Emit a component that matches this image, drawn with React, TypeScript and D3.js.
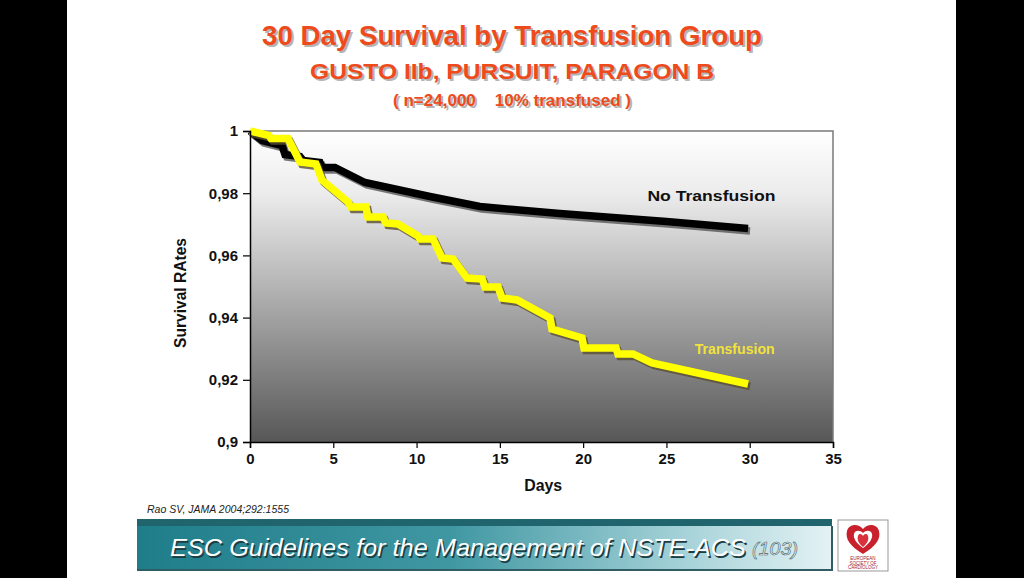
import React, { useEffect, useRef } from 'react';
import * as d3 from 'd3';

const W = 1024;
const H = 578;
const plot = { left: 250, right: 833, top: 131, bottom: 442 };

// Kaplan-Meier curves: [day, survival]
const noTransfusion: [number, number][] = [
  [0, 1.0], [0.72, 0.99695], [1.92, 0.99534], [2.1, 0.99244], [3.0, 0.9918],
  [3.18, 0.99051], [4.2, 0.98987], [4.32, 0.98826], [5.1, 0.98826], [6.9, 0.98344],
  [10.8, 0.97894], [13.8, 0.97572], [18.6, 0.97347], [25, 0.9709], [29.9, 0.96865],
];

const transfusion: [number, number][] = [
  [0, 1.0], [1.14, 0.99855], [1.26, 0.99759], [2.28, 0.99759], [3.0, 0.99003],
  [3.96, 0.98939], [4.32, 0.98424], [5.88, 0.97717], [6.06, 0.97556], [6.96, 0.97556],
  [7.08, 0.97235], [7.98, 0.97235], [8.16, 0.97042], [8.88, 0.9701], [10.09, 0.96624],
  [10.2, 0.96527], [10.99, 0.96527], [11.53, 0.95916], [12.19, 0.95884], [13.03, 0.95273],
  [13.93, 0.95241], [14.11, 0.94984], [14.89, 0.94984], [15.13, 0.9463], [16.03, 0.94566],
  [18.01, 0.93987], [18.13, 0.93633], [19.93, 0.93344], [20.05, 0.93023], [21.97, 0.93023],
  [22.09, 0.9283], [22.99, 0.9283], [24.13, 0.9254], [29.9, 0.91865],
];

const xTicks = [0, 5, 10, 15, 20, 25, 30, 35];
const yTicks = [0.9, 0.92, 0.94, 0.96, 0.98, 1];
const titleLines = [
  '30 Day Survival by Transfusion Group',
  'GUSTO IIb, PURSUIT, PARAGON B',
  '( n=24,000\u00a0\u00a0\u00a0 10% transfused )',
];
const seriesLabels = ['No Transfusion', 'Transfusion'];
// label anchor points in data units [day, survival]
const labelAt: [number, number][] = [[27.7, 0.9775], [29.1, 0.9283]];
const labelLen = [128, 80];

const NARROW = '"Liberation Sans Narrow", "Arial Narrow", "Liberation Sans", Arial, sans-serif';
const TITLE_RED = '#ee4a1c';

export default function App() {
  const ref = useRef<SVGSVGElement>(null);

  useEffect(() => {
    const svg = d3.select(ref.current);
    svg.selectAll('*').remove();

    const x = d3.scaleLinear().domain([0, 35]).range([plot.left, plot.right]);
    const y = d3.scaleLinear().domain([0.9, 1]).range([plot.bottom, plot.top]);

    const defs = svg.append('defs');
    const bg = defs.append('linearGradient').attr('id', 'plotbg')
      .attr('x1', 0).attr('y1', 0).attr('x2', 0).attr('y2', 1);
    bg.append('stop').attr('offset', '0%').attr('stop-color', '#ffffff');
    bg.append('stop').attr('offset', '20%').attr('stop-color', '#ececec');
    bg.append('stop').attr('offset', '100%').attr('stop-color', '#575757');

    const banner = defs.append('linearGradient').attr('id', 'banner')
      .attr('x1', 0).attr('y1', 0).attr('x2', 1).attr('y2', 0);
    banner.append('stop').attr('offset', '0%').attr('stop-color', '#1f7d8a');
    banner.append('stop').attr('offset', '45%').attr('stop-color', '#3f97a2');
    banner.append('stop').attr('offset', '80%').attr('stop-color', '#a9d4da');
    banner.append('stop').attr('offset', '100%').attr('stop-color', '#e4f2f4');

    // slide background + black side bars
    svg.append('rect').attr('width', W).attr('height', H).attr('fill', '#fff');
    svg.append('rect').attr('x', 0).attr('y', 0).attr('width', 67).attr('height', H).attr('fill', '#000');
    svg.append('rect').attr('x', 956).attr('y', 0).attr('width', W - 956).attr('height', H).attr('fill', '#000');

    // titles
    const titleSpecs = [
      { y: 45, size: 28, len: 500 },
      { y: 79, size: 22, len: 404 },
      { y: 106, size: 16, len: 238 },
    ];
    titleLines.forEach((t, i) => {
      const s = titleSpecs[i];
      [['#b5b5b5', 2], [TITLE_RED, 0]].forEach(([fill, off]) => {
        svg.append('text')
          .attr('x', 512 + (off as number)).attr('y', s.y + (off as number))
          .attr('text-anchor', 'middle')
          .attr('font-family', NARROW).attr('font-weight', 'bold')
          .attr('font-size', s.size)
          .attr('textLength', s.len).attr('lengthAdjust', 'spacingAndGlyphs')
          .attr('fill', fill as string)
          .text(t);
      });
    });

    // plot area
    svg.append('rect')
      .attr('x', plot.left).attr('y', plot.top)
      .attr('width', plot.right - plot.left).attr('height', plot.bottom - plot.top)
      .attr('fill', 'url(#plotbg)');
    svg.append('path')
      .attr('d', `M${plot.left},${plot.top}H${plot.right}V${plot.bottom}`)
      .attr('fill', 'none').attr('stroke', '#7a7a7a').attr('stroke-width', 1.5);

    const line = d3.line<[number, number]>().x(d => x(d[0])).y(d => y(d[1]));
    const curves: [[number, number][], string][] = [[noTransfusion, '#000'], [transfusion, '#ffff00']];
    curves.forEach(([data, color]) => {
      svg.append('path').datum(data)
        .attr('d', line)
        .attr('transform', 'translate(2,2.5)')
        .attr('fill', 'none').attr('stroke', color === '#000' ? '#555' : '#5a5030')
        .attr('stroke-opacity', 0.8)
        .attr('stroke-width', 7.5).attr('stroke-linejoin', 'miter');
      svg.append('path').datum(data)
        .attr('d', line)
        .attr('fill', 'none').attr('stroke', color)
        .attr('stroke-width', 7.5).attr('stroke-linejoin', 'miter');
    });

    // axes
    const fmt = (d: d3.NumberValue) => String(+(+d).toFixed(2)).replace('.', ',');
    const yAxis = svg.append('g')
      .attr('transform', `translate(${plot.left},0)`)
      .call(d3.axisLeft(y).tickValues(yTicks).tickFormat(fmt).tickSize(7).tickPadding(5));
    const xAxis = svg.append('g')
      .attr('transform', `translate(0,${plot.bottom})`)
      .call(d3.axisBottom(x).tickValues(xTicks).tickFormat(d => String(d)).tickSize(6).tickPadding(5));
    [yAxis, xAxis].forEach(g => {
      g.select('.domain').attr('stroke', '#000').attr('stroke-width', 1.5);
      g.selectAll('.tick line').attr('stroke', '#000').attr('stroke-width', 1.2);
      g.selectAll('.tick text')
        .attr('font-family', NARROW).attr('font-weight', 'bold')
        .attr('font-size', 15).attr('fill', '#111');
    });

    svg.append('text')
      .attr('transform', `translate(186,293) rotate(-90)`)
      .attr('text-anchor', 'middle')
      .attr('font-family', NARROW).attr('font-weight', 'bold').attr('font-size', 16)
      .attr('textLength', 110).attr('lengthAdjust', 'spacingAndGlyphs')
      .attr('fill', '#111')
      .text('Survival RAtes');
    svg.append('text')
      .attr('x', x(17.6)).attr('y', 491)
      .attr('text-anchor', 'middle')
      .attr('font-family', NARROW).attr('font-weight', 'bold').attr('font-size', 17)
      .attr('textLength', 38).attr('lengthAdjust', 'spacingAndGlyphs')
      .attr('fill', '#111')
      .text('Days');

    // series labels
    seriesLabels.forEach((t, i) => {
      svg.append('text')
        .attr('x', x(labelAt[i][0])).attr('y', y(labelAt[i][1]))
        .attr('text-anchor', 'middle')
        .attr('font-family', NARROW).attr('font-weight', 'bold').attr('font-size', 15.5)
        .attr('textLength', labelLen[i]).attr('lengthAdjust', 'spacingAndGlyphs')
        .attr('fill', i === 0 ? '#111' : '#f2e23a')
        .text(t);
    });

    // source
    svg.append('text')
      .attr('x', 147).attr('y', 513)
      .attr('font-family', NARROW).attr('font-style', 'italic').attr('font-size', 11)
      .attr('textLength', 142).attr('lengthAdjust', 'spacingAndGlyphs')
      .attr('fill', '#222')
      .text('Rao SV, JAMA 2004;292:1555');

    // footer banner
    svg.append('rect').attr('x', 137).attr('y', 519).attr('width', 695).attr('height', 7).attr('fill', '#20656d');
    svg.append('rect').attr('x', 137).attr('y', 526).attr('width', 695).attr('height', 44).attr('fill', 'url(#banner)');
    svg.append('path').attr('d', 'M137,570H832V526').attr('fill', 'none').attr('stroke', '#2f5d63').attr('stroke-width', 2);
    const bannerText = svg.append('g');
    [['#1c3d42', 1.5], ['#ffffff', 0]].forEach(([fill, off]) => {
      bannerText.append('text')
        .attr('x', 170 + (off as number)).attr('y', 556 + (off as number))
        .attr('font-family', NARROW).attr('font-style', 'italic').attr('font-size', 24)
        .attr('textLength', 576).attr('lengthAdjust', 'spacingAndGlyphs')
        .attr('fill', fill as string)
        .text('ESC Guidelines for the Management of NSTE-ACS');
    });
    bannerText.append('text')
      .attr('x', 752).attr('y', 555)
      .attr('font-family', NARROW).attr('font-style', 'italic').attr('font-size', 19)
      .attr('textLength', 46).attr('lengthAdjust', 'spacingAndGlyphs')
      .attr('fill', '#e6eef0').attr('stroke', '#4a6a70').attr('stroke-width', 0.6)
      .text('(103)');

    // ESC logo
    const logo = svg.append('g').attr('transform', 'translate(838,520)');
    logo.append('rect').attr('width', 50).attr('height', 51).attr('fill', '#fff')
      .attr('stroke', '#999').attr('stroke-width', 1);
    logo.append('path')
      .attr('d', 'M25,34 C12,26 7,19 9,11 C11,4 20,3 25,9 C30,3 39,4 41,11 C43,19 38,26 25,34 Z')
      .attr('fill', '#c8202c');
    logo.append('path')
      .attr('d', 'M25,28 C18,23 15,18 16,14 C17,10 22,10 25,13 C28,10 33,10 34,14 C35,18 32,23 25,28 Z')
      .attr('fill', '#fff');
    logo.append('path')
      .attr('d', 'M25,27 C20,23 19,19 20,16 C21,13 24,14 25,16 C26,14 29,13 30,16 C31,19 30,23 25,27 Z')
      .attr('fill', '#d8323c');
    ['EUROPEAN', 'SOCIETY OF', 'CARDIOLOGY'].forEach((t, i) => {
      logo.append('text')
        .attr('x', 25).attr('y', 40 + i * 4.5)
        .attr('text-anchor', 'middle')
        .attr('font-family', NARROW).attr('font-size', 4.5)
        .attr('fill', '#a02030')
        .text(t);
    });
  }, []);

  return (
    <svg ref={ref} width={W} height={H}
      style={{ position: 'fixed', left: 0, top: 0, display: 'block' }} />
  );
}
